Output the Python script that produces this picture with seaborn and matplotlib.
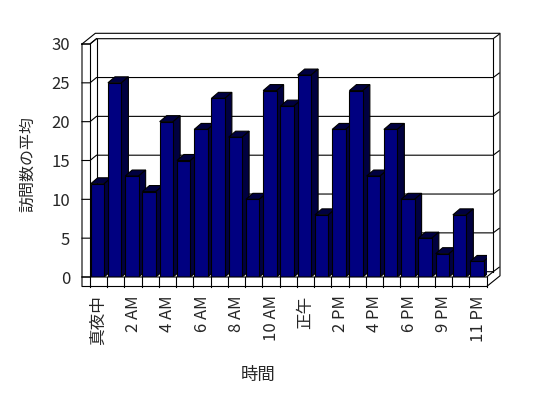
import matplotlib
matplotlib.use("Agg")
import matplotlib.pyplot as plt
from matplotlib.lines import Line2D
from matplotlib.patches import Polygon
from matplotlib.transforms import IdentityTransform
import numpy as np
import seaborn as sns

# ---- data (hour of day -> average visits) ----
hours = ["真夜中", "1 AM", "2 AM", "3 AM", "4 AM", "5 AM", "6 AM", "7 AM",
         "8 AM", "9 AM", "10 AM", "11 AM", "正午", "1 PM", "2 PM", "3 PM",
         "4 PM", "5 PM", "6 PM", "7 PM", "9 PM", "10 PM", "11 PM"]
visits = [12, 25, 13, 11, 20, 15, 19, 23, 18, 10, 24, 22,
          26, 8, 19, 24, 13, 19, 10, 5, 3, 8, 2]
y_ticks = [0, 5, 10, 15, 20, 25, 30]

x_title = "時間"
y_title = "訪問数の平均"

# ---- style ----
sns.set_style("white")
plt.rcParams['font.family'] = ['Noto Sans CJK JP', 'DejaVu Sans']

W, H = 548, 398
fig = plt.figure(figsize=(W / 100, H / 100), dpi=100)
fig.patch.set_facecolor("white")
ax = fig.add_axes([90 / W, 121 / H, 396.7 / W, 233 / H])

sns.barplot(x=hours, y=visits, color="#000080", saturation=1, width=0.78,
            edgecolor="black", linewidth=0.8, ax=ax)
ax.set_xlim(-0.5, len(hours) - 0.5)
ax.set_ylim(y_ticks[0], y_ticks[-1])
ax.set_xlabel("")
ax.set_ylabel("")
for s in ax.spines.values():
    s.set_visible(False)
ax.set_facecolor("none")

x0, x1 = -0.5, len(hours) - 0.5
y0, y1 = y_ticks[0], y_ticks[-1]

# pixel offsets for the fake 3D frame
WALL = 8.0      # left wall thickness
FLOOR = 9.5     # floor thickness
BACK = (6.5, 5.3)
OUTER = (13.3, 10.7)
BAR_D = (7.0, 6.0)

def pt(x, y, ox=0.0, oy=0.0):
    px, py = ax.transData.transform((x, y))
    return px + ox, py + oy

def seg(points, z=1, lw=0.8):
    xy = np.array([pt(*p) for p in points])
    ax.add_line(Line2D(xy[:, 0], xy[:, 1], color="black", lw=lw,
                       transform=IdentityTransform(), zorder=z,
                       clip_on=False, solid_capstyle="projecting"))

# gridlines on the back wall (with ticks on the left wall)
for v in y_ticks:
    seg([(x0, v, -WALL, 0), (x0, v), (x0, v, *BACK), (x1, v, *BACK),
         (x1, v, BACK[0] + 6, BACK[1] + 4.5)])

# outer silhouette
seg([(x0, y1, -WALL, 0), (x0, y1, OUTER[0] - WALL, OUTER[1]),
     (x1, y1, *OUTER), (x1, y0, OUTER[0], OUTER[1] - FLOOR),
     (x1, y0, 0, -FLOOR), (x0, y0, -WALL, -FLOOR), (x0, y1, -WALL, 0)])
# left wall inner edges
seg([(x0, y1, -WALL, 0), (x0, y1), (x0, y1, *BACK)])
seg([(x0, y1), (x0, y0)])
seg([(x0, y1, *BACK), (x0, y0, *BACK)])
# right edge of back wall
seg([(x1, y1, *BACK), (x1, y0, *BACK)])
# floor
seg([(x0, y0, -WALL, 0), (x1, y0), (x1, y0, *BACK)], z=5)
for k in range(len(hours) + 1):
    seg([(k - 0.5, y0), (k - 0.5, y0, 0, -FLOOR)], z=5)

# 3D faces for each bar
(ox0, oy0), (ox1, oy1) = ax.transData.transform([(0, 0), (1, 1)])
ddx = BAR_D[0] / (ox1 - ox0)
ddy = BAR_D[1] / (oy1 - oy0)
bars = list(ax.patches)
for i, bar in enumerate(bars):
    bar.set_x(bar.get_x() - 0.07)
    z = 3 + i * 0.01
    bar.set_zorder(z)
    bx, bw, bh = bar.get_x(), bar.get_width(), bar.get_height()
    top = Polygon([(bx, bh), (bx + bw, bh), (bx + bw + ddx, bh + ddy),
                   (bx + ddx, bh + ddy)], closed=True, facecolor="#000040",
                  edgecolor="black", lw=0.8, zorder=z - 0.005)
    side = Polygon([(bx + bw, 0), (bx + bw + ddx, ddy),
                    (bx + bw + ddx, bh + ddy), (bx + bw, bh)], closed=True,
                   facecolor="#000040", edgecolor="black", lw=0.8,
                   zorder=z - 0.005)
    ax.add_patch(top)
    ax.add_patch(side)

# ticks
ax.set_yticks(y_ticks)
ax.set_yticklabels([str(v) for v in y_ticks], fontsize=12)
idx = list(range(0, len(hours), 2))
ax.set_xticks(idx)
ax.set_xticklabels([hours[i] for i in idx], rotation=90, fontsize=12)
ax.tick_params(axis="y", length=0, pad=14.4)
ax.tick_params(axis="x", length=0, pad=13.3)

fig.text(258 / W, 1 - 375 / H, x_title, ha="center", va="center", fontsize=12.5)
fig.text(28 / W, 1 - 164 / H, y_title, ha="center", va="center",
         rotation=90, fontsize=11.5)

fig.savefig("out.png", dpi=100)
